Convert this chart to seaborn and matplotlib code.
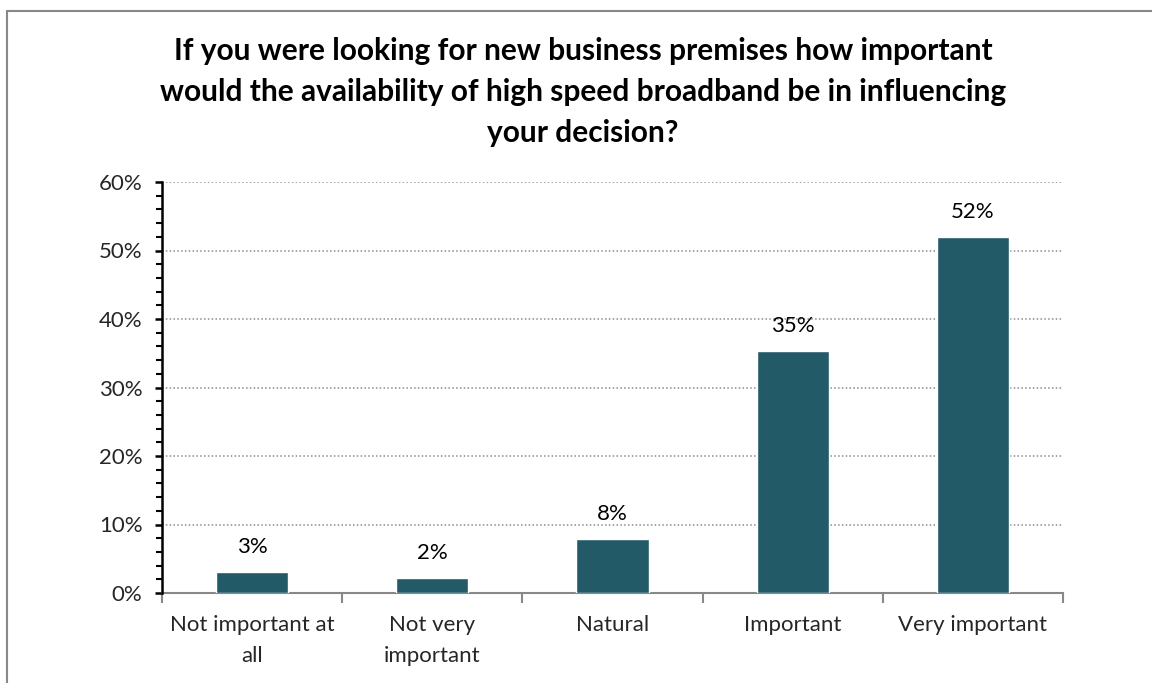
import matplotlib
matplotlib.use("Agg")
import matplotlib.pyplot as plt
from matplotlib.patches import Rectangle
from matplotlib.ticker import MultipleLocator, FixedLocator, FuncFormatter
import seaborn as sns
import pandas as pd

categories = ["Not important at\nall", "Not very\nimportant", "Natural", "Important", "Very important"]
shares = [3.0, 2.2, 7.9, 35.3, 52.0]
y_ticks = [0, 10, 20, 30, 40, 50, 60]
title = ("If you were looking for new business premises how important\n"
         "would the availability of high speed broadband be in influencing\n"
         "your decision?")

bar_color = "#235A68"

sns.set_theme(style="white")
plt.rcParams["font.family"] = ["Lato", "DejaVu Sans"]

df = pd.DataFrame({"category": categories, "share": shares})

fig = plt.figure(figsize=(11.52, 6.83), dpi=100)
ax = fig.add_axes([162 / 1152, 1 - 593 / 683, (1063 - 162) / 1152, (593 - 182) / 683])

sns.barplot(data=df, x="category", y="share", color=bar_color, width=0.4,
            saturation=1, ax=ax, zorder=3)

ax.set_xlim(-0.5, len(categories) - 0.5)
ax.set_ylim(0, 60)
ax.set_xlabel("")
ax.set_ylabel("")

# y axis: percent labels, major every 10, minor every 2
ax.yaxis.set_major_locator(FixedLocator(y_ticks))
ax.yaxis.set_minor_locator(MultipleLocator(2))
ax.yaxis.set_major_formatter(FuncFormatter(lambda v, p: f"{v:.0f}%"))
ax.tick_params(axis="y", which="major", direction="out", length=5, width=1.8,
               color="black", labelsize=16, pad=9, left=True)
ax.tick_params(axis="y", which="minor", direction="out", length=4, width=1.5,
               color="black", left=True)

# x axis: category labels, tick marks at category boundaries
ax.xaxis.set_minor_locator(FixedLocator([i - 0.5 for i in range(len(categories) + 1)]))
ax.tick_params(axis="x", which="major", length=0, labelsize=16, pad=16)
ax.tick_params(axis="x", which="minor", direction="out", length=7, width=1.5,
               color="#888888", bottom=True)
for lbl in ax.get_xticklabels():
    lbl.set_linespacing(1.65)

# dotted horizontal gridlines
for v in y_ticks[1:]:
    ax.axhline(v, color="#8c8c8c", linestyle=(0, (1, 1.5)), linewidth=1.1, zorder=1)

for side in ["top", "right"]:
    ax.spines[side].set_visible(False)
ax.spines["left"].set_color("black")
ax.spines["left"].set_linewidth(1.8)
ax.spines["bottom"].set_color("#888888")
ax.spines["bottom"].set_linewidth(1.5)
ax.spines["left"].set_zorder(4)

# value labels above bars
for i, v in enumerate(shares):
    ax.text(i, v + 2.2, f"{v:.0f}%", ha="center", va="bottom", fontsize=16,
            color="black")

fig.text(0.506, 1 - 92 / 683, title, ha="center", va="center", fontsize=21.5,
         fontweight="bold", linespacing=1.55, color="black")

# outer chart frame
fig.patches.append(Rectangle((7 / 1152, -0.1), 1.2, 1 - 11 / 683 + 0.1,
                             transform=fig.transFigure, fill=False,
                             edgecolor="#888888", linewidth=1.5))

fig.savefig("out.png", dpi=100)
